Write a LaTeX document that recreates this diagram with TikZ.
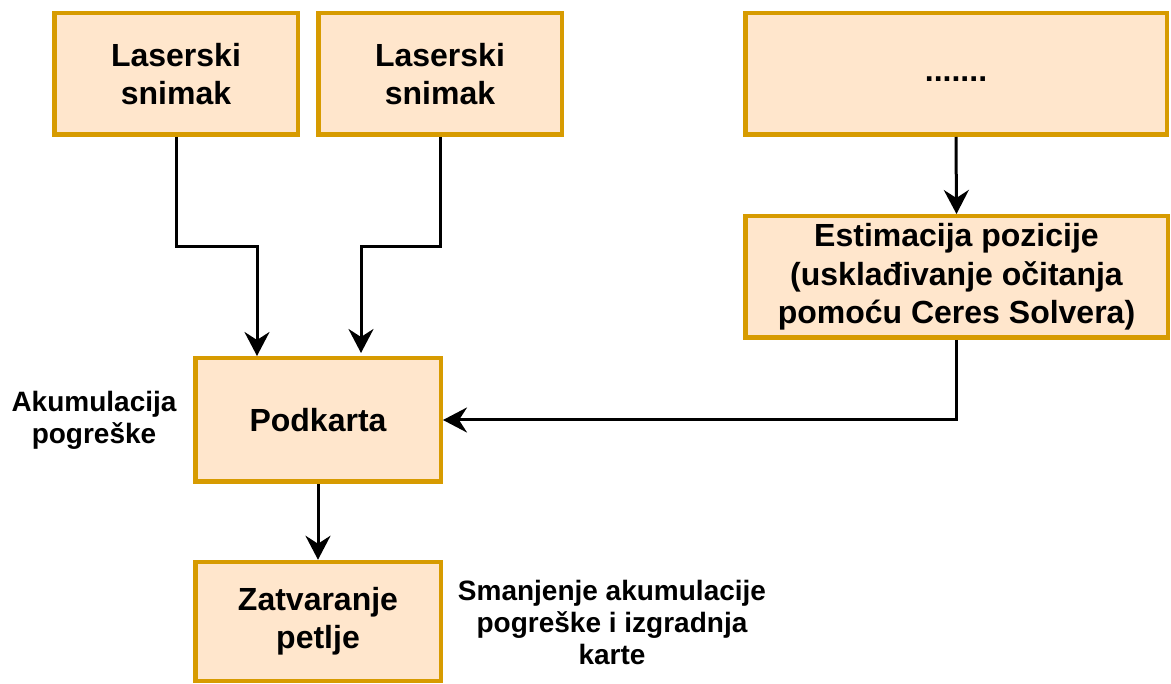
\documentclass[tikz,border=0pt]{standalone}
\usepackage{fontspec}
\setmainfont{Liberation Sans}
\usetikzlibrary{arrows.meta,positioning}
\definecolor{boxfill}{HTML}{FFE6CC}
\definecolor{boxline}{HTML}{D79B00}

\begin{document}
\begin{tikzpicture}[
  x=1pt, y=-1pt,
  procbox/.style={
    rectangle, draw=boxline, fill=boxfill, line width=4.5pt,
    minimum height=121.5pt, inner sep=0pt,
    align=center, font=\fontsize{32}{38.4}\selectfont\bfseries
  },
  note/.style={align=center, font=\fontsize{28}{32}\selectfont\bfseries},
  flow/.style={-{Stealth[length=24pt, width=25pt, inset=8pt]}, line width=3pt, black}
]
\useasboundingbox (0,0) rectangle (1171,684);

% ---- Input boxes (top row) ----
\node[procbox, minimum width=243.5pt] (lsr1) at (176,74) {Laserski\\snimak};
\node[procbox, minimum width=243.5pt] (lsr2) at (440,74) {Laserski\\snimak};
\node[procbox, minimum width=421.5pt] (dots) at (956,74) {\strut.......};

% ---- Processing boxes ----
\node[procbox, minimum width=422.5pt] (est) at (956.5,277)
  {Estimacija pozicije\\(usklađivanje očitanja\\pomoću Ceres Solvera)};
\node[procbox, minimum width=245.5pt, minimum height=123.5pt] (pod) at (318,420) {Podkarta};
\node[procbox, minimum width=245.5pt, minimum height=119pt] (zat) at (318,621.5) {Zatvaranje\\petlje};

% ---- Side notes ----
\node[note] (acc) at (94,420) {Akumulacija\\pogreške};
\node[note] (red) at (612,622) {Smanjenje akumulacije\\pogreške i izgradnja\\karte};

% ---- Bend points ----
\coordinate (b1) at (257,247);
\coordinate (b2) at (361,247);

% ---- Connectors ----
\draw[flow] (lsr1.south) |- (b1) -- (b1 |- pod.north);
\draw[flow, shorten >=3pt] (lsr2.south) |- (b2) -- (b2 |- pod.north);
\draw[flow] (dots.south) -- (est.north);
\draw[flow] (est.south) |- (pod.east);
\draw[flow] (pod.south) -- (zat.north);

\end{tikzpicture}
\end{document}
